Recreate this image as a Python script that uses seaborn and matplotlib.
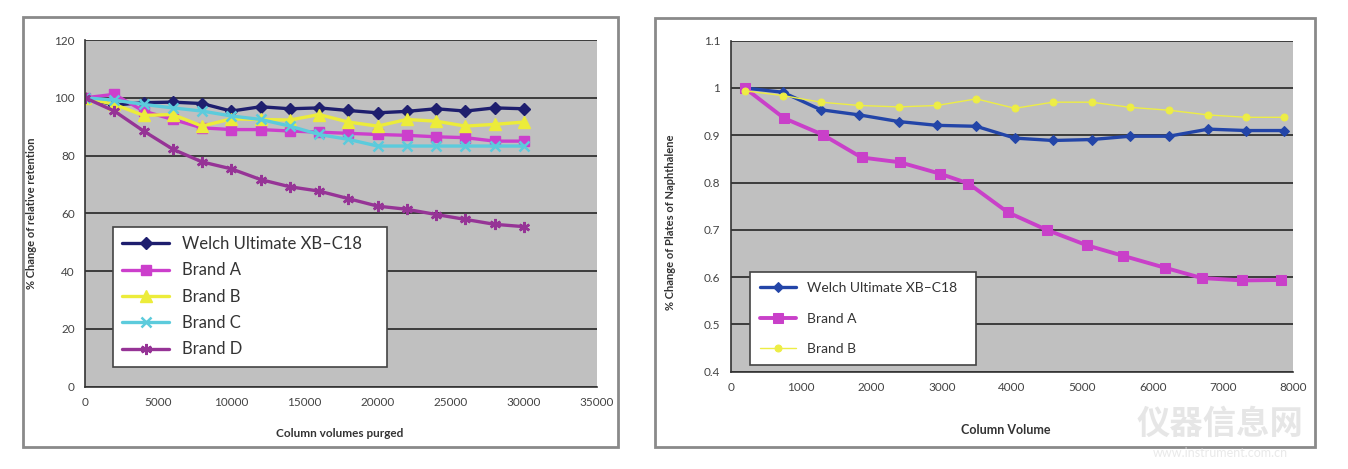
import matplotlib
matplotlib.use("Agg")
import matplotlib.pyplot as plt
from matplotlib.patches import Rectangle
import seaborn as sns
import numpy as np

# ---------------- data: left chart ----------------
left_x = [0, 2000, 4000, 6000, 8000, 10000, 12000, 14000, 16000, 18000,
          20000, 22000, 24000, 26000, 28000, 30000]
welch_left = [100, 97.5, 98.3, 98.5, 98.0, 95.4, 96.9, 96.2, 96.5, 95.6,
              94.8, 95.3, 96.2, 95.4, 96.5, 96.2]
brand_a_left = [100, 101.2, 95.4, 92.5, 89.6, 89.0, 89.0, 88.5, 88.1, 87.7,
                87.3, 87.0, 86.5, 86.2, 85.0, 85.0]
brand_b_left = [100, 97.7, 93.9, 94.2, 90.2, 92.7, 92.5, 92.3, 94.2, 91.6,
                90.2, 92.5, 91.9, 90.2, 90.8, 91.6]
brand_c_left = [100, 99.2, 97.7, 96.5, 95.4, 93.7, 92.5, 90.2, 87.3, 85.6,
                83.3, 83.3, 83.3, 83.3, 83.3, 83.3]
brand_d_left = [100, 95.4, 88.5, 82.2, 77.8, 75.4, 71.7, 69.2, 67.7, 65.1,
                62.5, 61.4, 59.6, 57.9, 56.2, 55.4]
left_names = ["Welch Ultimate XB\u2013C18", "Brand A", "Brand B", "Brand C", "Brand D"]
left_xticks = [0, 5000, 10000, 15000, 20000, 25000, 30000, 35000]
left_yticks = [0, 20, 40, 60, 80, 100, 120]

# ---------------- data: right chart ----------------
welch_right_x = [200, 740, 1280, 1830, 2390, 2930, 3490, 4040, 4580, 5130,
                 5680, 6230, 6790, 7330, 7860]
welch_right = [1.0, 0.991, 0.954, 0.943, 0.929, 0.921, 0.919, 0.894, 0.889,
               0.891, 0.898, 0.898, 0.913, 0.910, 0.910]
brand_a_right_x = [200, 760, 1310, 1860, 2400, 2970, 3380, 3940, 4490, 5070,
                   5580, 6170, 6700, 7270, 7820]
brand_a_right = [1.0, 0.936, 0.901, 0.853, 0.843, 0.819, 0.798, 0.737, 0.700,
                 0.667, 0.645, 0.620, 0.598, 0.593, 0.594]
brand_b_right_x = [200, 740, 1280, 1830, 2390, 2930, 3490, 4040, 4580, 5130,
                   5680, 6230, 6790, 7330, 7860]
brand_b_right = [0.994, 0.984, 0.970, 0.963, 0.960, 0.963, 0.977, 0.957, 0.970,
                 0.970, 0.959, 0.953, 0.943, 0.938, 0.938]
right_names = ["Welch Ultimate XB\u2013C18", "Brand A", "Brand B"]
right_xticks = [0, 1000, 2000, 3000, 4000, 5000, 6000, 7000, 8000]
right_yticks = [0.4, 0.5, 0.6, 0.7, 0.8, 0.9, 1.0, 1.1]
right_ytick_labels = ["0.4", "0.5", "0.6", "0.7", "0.8", "0.9", "1", "1.1"]

# ---------------- style ----------------
sns.set_style("white", {"axes.facecolor": "#c0c0c0"})
plt.rcParams["font.family"] = ["Lato", "DejaVu Sans"]

fig = plt.figure(figsize=(13.48, 4.69), dpi=100)
fig.patch.set_facecolor("white")

ax1 = fig.add_axes([0.0631, 0.1755, 0.3798, 0.7392])
ax2 = fig.add_axes([0.5421, 0.2075, 0.4174, 0.7057])

# outer chart frames
fig.add_artist(Rectangle((22.7 / 1348, 1 - 446.7 / 469), (618 - 22.7) / 1348,
                         (446.7 - 17.3) / 469, fill=False, ec="#8a8a8a", lw=2,
                         transform=fig.transFigure))
fig.add_artist(Rectangle((655 / 1348, 1 - 446.7 / 469), (1315 - 655) / 1348,
                         (446.7 - 18.3) / 469, fill=False, ec="#8a8a8a", lw=2,
                         transform=fig.transFigure))

# ---------------- left chart ----------------
left_series = [welch_left, brand_a_left, brand_b_left, brand_c_left, brand_d_left]
left_colors = ["#1e1e6e", "#cc3fcc", "#ecec3a", "#5ccbdc", "#963496"]
left_markers = ["D", "s", "^", "x", (6, 2, 0)]
left_msize = [6, 7, 8, 7, 8]
for ys, name, c, m, ms in zip(left_series, left_names, left_colors, left_markers, left_msize):
    sns.lineplot(x=left_x, y=ys, ax=ax1, color=c, marker=m, markersize=ms,
                 linewidth=2.4, label=name, markeredgecolor=c,
                 markeredgewidth=1.8 if m in ("x",) or isinstance(m, tuple) else 1,
                 sort=False)

ax1.set_xlim(0, 35000)
ax1.set_ylim(0, 120)
ax1.set_xticks(left_xticks)
ax1.set_xticklabels([str(t) for t in left_xticks])
ax1.set_yticks(left_yticks)
ax1.set_yticklabels([str(t) for t in left_yticks])
ax1.grid(axis="y", color="#3c3c3c", lw=1.4)
ax1.grid(axis="x", visible=False)
ax1.set_axisbelow(True)
for s in ["top", "right"]:
    ax1.spines[s].set_visible(False)
for s in ["left", "bottom"]:
    ax1.spines[s].set_color("#333333")
    ax1.spines[s].set_linewidth(1.2)
ax1.tick_params(axis="both", direction="out", length=4, width=1, color="#555555",
                labelsize=8.5, labelcolor="#444444")
ax1.set_xlabel("Column volumes purged", fontsize=8.5, fontweight="bold", color="#333333")
ax1.set_ylabel("% Change of relative retention", fontsize=8, fontweight="bold", color="#333333")
ax1.xaxis.set_label_coords(0.498, -0.12)
ax1.yaxis.set_label_coords(-0.094, 0.5)

leg1 = ax1.legend(loc="lower left", bbox_to_anchor=(0.055, 0.058, 0.534, 0.385),
                  mode="expand", frameon=True, fancybox=False, fontsize=12,
                  handlelength=2.8, labelspacing=0.62, borderaxespad=0,
                  borderpad=0.55)
leg1.get_frame().set_edgecolor("#444444")
leg1.get_frame().set_linewidth(1.2)
leg1.get_frame().set_facecolor("white")
leg1.get_frame().set_alpha(1)
for t in leg1.get_texts():
    t.set_color("#333333")

# ---------------- right chart ----------------
right_series = [(welch_right_x, welch_right), (brand_a_right_x, brand_a_right),
                (brand_b_right_x, brand_b_right)]
right_colors = ["#2345a8", "#c940c9", "#eded45"]
right_markers = ["D", "s", "o"]
right_msize = [5, 7, 5]
right_lw = [2.4, 2.8, 1.0]
for (xs, ys), name, c, m, ms, lw in zip(right_series, right_names, right_colors,
                                        right_markers, right_msize, right_lw):
    sns.lineplot(x=xs, y=ys, ax=ax2, color=c, marker=m, markersize=ms,
                 linewidth=lw, label=name, markeredgecolor=c, sort=False)

ax2.set_xlim(0, 8000)
ax2.set_ylim(0.4, 1.1)
ax2.set_xticks(right_xticks)
ax2.set_xticklabels([str(t) for t in right_xticks])
ax2.set_yticks(right_yticks)
ax2.set_yticklabels(right_ytick_labels)
ax2.grid(axis="y", color="#3c3c3c", lw=1.4)
ax2.grid(axis="x", visible=False)
ax2.set_axisbelow(True)
for s in ["top", "right"]:
    ax2.spines[s].set_visible(False)
for s in ["left", "bottom"]:
    ax2.spines[s].set_color("#333333")
    ax2.spines[s].set_linewidth(1.2)
ax2.tick_params(axis="both", direction="out", length=4, width=1, color="#555555",
                labelsize=8.5, labelcolor="#444444")
ax2.set_xlabel("Column Volume", fontsize=9, fontweight="bold", color="#333333")
ax2.set_ylabel("% Change of Plates of Naphthalene", fontsize=8, fontweight="bold", color="#333333")
ax2.xaxis.set_label_coords(0.488, -0.158)
ax2.yaxis.set_label_coords(-0.097, 0.45)

leg2 = ax2.legend(loc="lower left", bbox_to_anchor=(0.034, 0.02, 0.401, 0.277),
                  mode="expand", frameon=True, fancybox=False, fontsize=10,
                  handlelength=2.6, labelspacing=1.35, borderaxespad=0,
                  borderpad=0.7)
leg2.get_frame().set_edgecolor("#444444")
leg2.get_frame().set_linewidth(1.2)
leg2.get_frame().set_facecolor("white")
leg2.get_frame().set_alpha(1)
for t in leg2.get_texts():
    t.set_color("#333333")

# faint watermark
fig.text(0.905, 0.095, "仪器信息网", fontsize=24, color="#dcdcdc", alpha=0.7,
         ha="center", va="center", family=["Noto Sans CJK SC", "DejaVu Sans"],
         fontweight="bold")
fig.text(0.905, 0.035, "www.instrument.com.cn", fontsize=9, color="#e0e0e0",
         alpha=0.7, ha="center", va="center")

fig.savefig("out.png", dpi=100, facecolor="white")
